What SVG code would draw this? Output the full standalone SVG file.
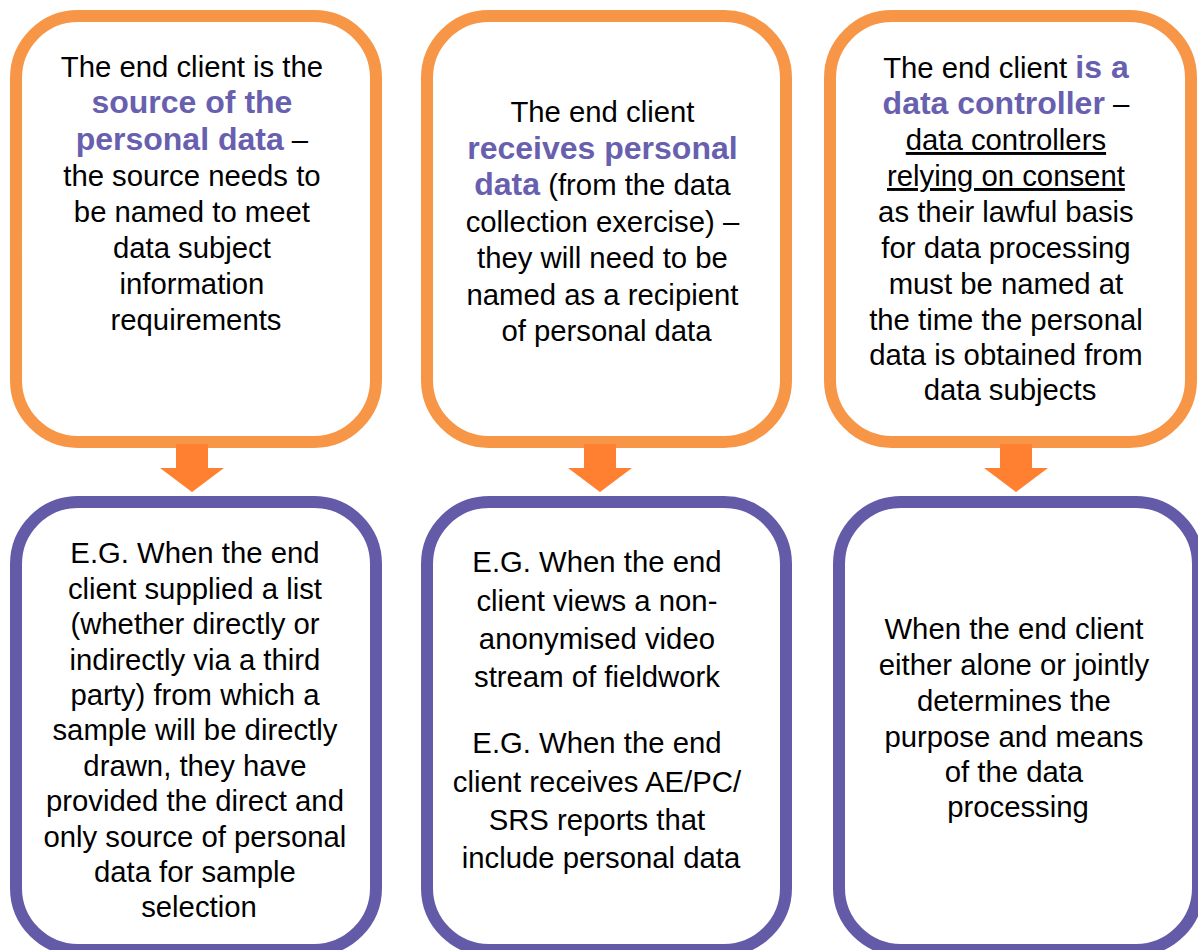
<svg xmlns="http://www.w3.org/2000/svg" width="1198" height="950" viewBox="0 0 1198 950">
<style>
.top{fill:#fff;stroke:#F79646;stroke-width:12}
.bot{fill:#fff;stroke:#635BA8;stroke-width:12}
.t{font-family:"Liberation Sans",Arial,sans-serif;font-size:29.3px;fill:#000;text-anchor:middle}
.b{font-weight:bold;fill:#6860AE;font-size:32px}
.u{text-decoration:underline}
.arr{fill:#FE8030}
</style>
<rect width="1198" height="950" fill="#fff"/>
<g id="top1">
<rect class="top" x="16" y="16" width="360" height="426" rx="62" ry="62"/>
<text class="t">
<tspan x="196" y="77">The end client is the</tspan>
<tspan x="196" y="113" class="b">source of the</tspan>
<tspan x="196" y="150"><tspan class="b">personal data</tspan> –</tspan>
<tspan x="196" y="186">the source needs to</tspan>
<tspan x="196" y="222">be named to meet</tspan>
<tspan x="196" y="258">data subject</tspan>
<tspan x="196" y="294">information</tspan>
<tspan x="196" y="330">requirements</tspan>
</text>
</g>
<g id="top2">
<rect class="top" x="427" y="16" width="359" height="426" rx="62" ry="62"/>
<text class="t">
<tspan x="606.5" y="122">The end client</tspan>
<tspan x="606.5" y="158.5" class="b">receives personal</tspan>
<tspan x="606.5" y="195"><tspan class="b">data</tspan> (from the data</tspan>
<tspan x="606.5" y="231.5">collection exercise) –</tspan>
<tspan x="606.5" y="268">they will need to be</tspan>
<tspan x="606.5" y="304.5">named as a recipient</tspan>
<tspan x="606.5" y="341">of personal data</tspan>
</text>
</g>
<g id="top3">
<rect class="top" x="830" y="16" width="361" height="426" rx="62" ry="62"/>
<text class="t">
<tspan x="1010" y="78">The end client <tspan class="b">is a</tspan></tspan>
<tspan x="1010" y="114"><tspan class="b">data controller</tspan> –</tspan>
<tspan x="1010" y="150" class="u">data controllers</tspan>
<tspan x="1010" y="186" class="u">relying on consent</tspan>
<tspan x="1010" y="222">as their lawful basis</tspan>
<tspan x="1010" y="258">for data processing</tspan>
<tspan x="1010" y="294">must be named at</tspan>
<tspan x="1010" y="330">the time the personal</tspan>
<tspan x="1010" y="365">data is obtained from</tspan>
<tspan x="1010" y="400">data subjects</tspan>
</text>
</g>
<g id="bot1">
<rect class="bot" x="16" y="502" width="360" height="448" rx="62" ry="62"/>
<text class="t">
<tspan x="199" y="563">E.G. When the end</tspan>
<tspan x="199" y="598.5">client supplied a list</tspan>
<tspan x="199" y="634">(whether directly or</tspan>
<tspan x="199" y="669.5">indirectly via a third</tspan>
<tspan x="199" y="705">party) from which a</tspan>
<tspan x="199" y="740">sample will be directly</tspan>
<tspan x="199" y="775.5">drawn, they have</tspan>
<tspan x="199" y="811">provided the direct and</tspan>
<tspan x="199" y="846.5">only source of personal</tspan>
<tspan x="199" y="882">data for sample</tspan>
<tspan x="199" y="917">selection</tspan>
</text>
</g>
<g id="bot2">
<rect class="bot" x="427" y="502" width="359" height="448" rx="62" ry="62"/>
<text class="t">
<tspan x="601" y="572">E.G. When the end</tspan>
<tspan x="601" y="610.5">client views a non-</tspan>
<tspan x="601" y="649">anonymised video</tspan>
<tspan x="601" y="687">stream of fieldwork</tspan>
<tspan x="601" y="753">E.G. When the end</tspan>
<tspan x="601" y="791.5">client receives AE/PC/</tspan>
<tspan x="601" y="830">SRS reports that</tspan>
<tspan x="601" y="868">include personal data</tspan>
</text>
</g>
<g id="bot3">
<rect class="bot" x="839" y="502" width="359" height="448" rx="62" ry="62"/>
<text class="t">
<tspan x="1018" y="639">When the end client</tspan>
<tspan x="1018" y="675">either alone or jointly</tspan>
<tspan x="1018" y="710.5">determines the</tspan>
<tspan x="1018" y="746.5">purpose and means</tspan>
<tspan x="1018" y="782">of the data</tspan>
<tspan x="1018" y="817">processing</tspan>
</text>
</g>
<g id="connectors">
<polygon class="arr" points="176,444 208,444 208,468 224,468 192,492 160,468 176,468"/>
<polygon class="arr" points="584,444 616,444 616,468 632,468 600,492 568,468 584,468"/>
<polygon class="arr" points="1000,444 1032,444 1032,468 1048,468 1016,492 984,468 1000,468"/>
</g>
</svg>
